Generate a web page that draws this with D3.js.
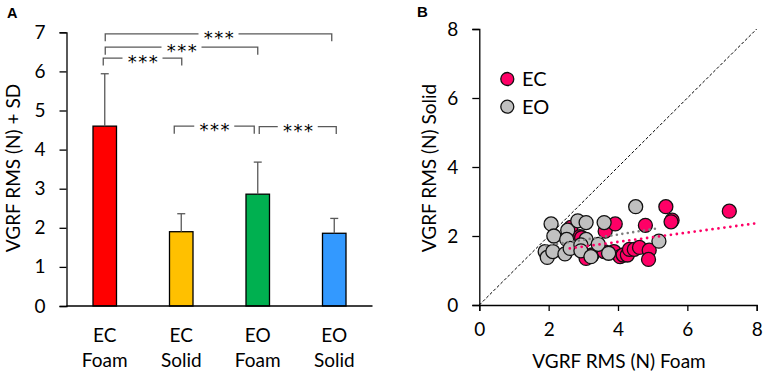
<!DOCTYPE html>
<html><head><meta charset="utf-8">
<script src="https://cdn.jsdelivr.net/npm/d3@7"></script>
<style>
html,body{margin:0;padding:0;background:#fff;}
svg{display:block;font-family:Lato,"Open Sans",sans-serif;}
</style></head>
<body>
<svg id="c" width="765" height="376"></svg>
<script>
// ---------- Data (panel A) ----------
const categories = ["EC Foam","EC Solid","EO Foam","EO Solid"];
const catLine1 = ["EC","EC","EO","EO"];
const catLine2 = ["Foam","Solid","Foam","Solid"];
const means = [4.60, 1.90, 2.86, 1.86];
const sds = [1.34, 0.46, 0.82, 0.38];
const barColors = ["#FF0000","#FFC000","#00B050","#3399FF"];
const yTicksA = [0,1,2,3,4,5,6,7];
// significance brackets: from index, to index, level (y units), label
const bracketFrom = [0,0,0,1,2];
const bracketTo = [3,2,1,2,3];
const bracketLevel = [6.96,6.62,6.34,4.60,4.59];
const bracketLabel = ["***","***","***","***","***"];

// ---------- Data (panel B) ----------
const ecFoam  = [2.64,2.90,3.08,3.25,3.63,3.92,3.88,4.06,4.15,4.27,4.33,4.47,4.62,4.79,4.90,4.88,5.38,5.56,5.53,7.21,2.95,3.60];
const ecSolid = [2.25,1.98,1.35,1.45,2.14,2.35,1.55,1.40,1.45,1.45,1.61,1.61,1.67,2.31,1.59,1.32,2.85,2.46,2.41,2.72,1.95,1.55];
const eoFoam  = [2.07,2.15,1.90,1.96,2.12,2.55,2.52,2.47,2.62,2.84,3.08,3.08,2.93,2.93,3.22,3.43,3.60,3.73,4.51,5.18];
const eoSolid = [2.35,2.00,1.55,1.38,1.55,2.17,1.90,1.48,1.64,2.44,2.39,1.90,1.74,1.57,1.40,1.76,2.39,1.50,2.85,1.85];
const ecTrendX = [2.61, 8.0];
const ecTrendY = [1.64, 2.37];
const eoTrendX = [1.93, 5.13];
const eoTrendY = [1.72, 2.22];
const axisTicksB = [0,2,4,6,8];
const legendNames = ["EC","EO"];
const pointColors = ["#FF0066","#C0C0C0"];

const svg = d3.select("#c");
const FONT = 19;

// ================= Panel A =================
const xA = d3.scalePoint().domain(categories).range([66.5,372.5]).padding(0.5);
const yA = d3.scaleLinear().domain([0,7]).range([306,32.3]);
const barW = 23.5;
const gA = svg.append("g");

gA.selectAll("rect.bar").data(categories).join("rect")
  .attr("x", d=>xA(d)-barW/2)
  .attr("y", (d,i)=>yA(means[i]))
  .attr("width", barW)
  .attr("height", (d,i)=>yA(0)-yA(means[i]))
  .attr("fill", (d,i)=>barColors[i])
  .attr("stroke","#000").attr("stroke-width",1.3);

gA.selectAll("g.err").data(categories).join("g").each(function(d,i){
  const g = d3.select(this);
  const cx = xA(d);
  g.append("line").attr("x1",cx).attr("x2",cx)
    .attr("y1",yA(means[i])).attr("y2",yA(means[i]+sds[i]))
    .attr("stroke","#595959").attr("stroke-width",1.3);
  g.append("line").attr("x1",cx-4).attr("x2",cx+4)
    .attr("y1",yA(means[i]+sds[i])).attr("y2",yA(means[i]+sds[i]))
    .attr("stroke","#595959").attr("stroke-width",1.3);
});

const axA = gA.append("g").attr("transform","translate(66.5,0)")
  .call(d3.axisLeft(yA).tickValues(yTicksA).tickSize(7).tickPadding(14).tickFormat(d3.format("d")));
axA.select(".domain").attr("stroke","#000").attr("stroke-width",1.3);
axA.selectAll(".tick line").attr("stroke","#000").attr("stroke-width",1.3);
axA.selectAll(".tick text").attr("font-size",FONT).attr("font-family","Lato").attr("fill","#000");
gA.append("line").attr("x1",66.5).attr("x2",372.5).attr("y1",yA(0)).attr("y2",yA(0))
  .attr("stroke","#000").attr("stroke-width",1.3);

gA.selectAll("text.cat1").data(categories).join("text")
  .attr("x", d=>xA(d)).attr("y", 342).attr("text-anchor","middle")
  .attr("font-size",FONT).text((d,i)=>catLine1[i]);
gA.selectAll("text.cat2").data(categories).join("text")
  .attr("x", d=>xA(d)).attr("y", 367).attr("text-anchor","middle")
  .attr("font-size",FONT).text((d,i)=>catLine2[i]);

gA.append("text").attr("transform","translate(20,168) rotate(-90)")
  .attr("text-anchor","middle").attr("font-size",FONT).text("VGRF RMS (N) + SD");

// brackets
const nudgeL = [0.5,0.5,-1.5,-7,1.5];
const nudgeR = [-2.5,0,0.5,-3.5,2];
const drop = 7.5;
bracketFrom.forEach((a,i)=>{
  const x1 = xA(categories[a])+nudgeL[i];
  const x2 = xA(categories[bracketTo[i]])+nudgeR[i];
  const y = yA(bracketLevel[i]);
  const g = gA.append("g");
  g.append("path")
    .attr("d", `M${x1},${y+drop}V${y}H${x2}V${y+drop}`)
    .attr("fill","none").attr("stroke","#595959").attr("stroke-width",1.3);
  const xm = (x1+x2)/2;
  g.append("rect").attr("x",xm-20).attr("y",y-3).attr("width",40).attr("height",6).attr("fill","#fff");
  g.append("text").attr("x",xm+1).attr("y",y+10).attr("text-anchor","middle")
    .attr("font-family","DejaVu Sans").attr("font-size",18).attr("letter-spacing",1.5)
    .attr("fill","#000").text(bracketLabel[i]);
});

svg.append("text").attr("x",7).attr("y",18).attr("font-family","Liberation Sans, Arial")
  .attr("font-weight","bold").attr("font-size",14.5).text("A");

// ================= Panel B =================
const xB = d3.scaleLinear().domain([0,8]).range([479.3,756.7]);
const yB = d3.scaleLinear().domain([0,8]).range([305,29]);
const gB = svg.append("g");

gB.append("line").attr("x1",xB(0)).attr("y1",yB(0)).attr("x2",xB(8)).attr("y2",yB(8))
  .attr("stroke","#000").attr("stroke-width",1).attr("stroke-dasharray","3,2");

const axBy = gB.append("g").attr("transform",`translate(${xB(0)},0)`)
  .call(d3.axisLeft(yB).tickValues(axisTicksB).tickSize(7).tickPadding(14).tickFormat(d3.format("d")));
const axBx = gB.append("g").attr("transform",`translate(0,${yB(0)})`)
  .call(d3.axisBottom(xB).tickValues(axisTicksB).tickSize(6).tickPadding(12).tickFormat(d3.format("d")));
[axBy,axBx].forEach(ax=>{
  ax.select(".domain").attr("stroke","#000").attr("stroke-width",1.3);
  ax.selectAll(".tick line").attr("stroke","#000").attr("stroke-width",1.3);
  ax.selectAll(".tick text").attr("font-size",FONT).attr("font-family","Lato").attr("fill","#000");
});

const R = 7;
gB.selectAll("circle.ec").data(ecFoam).join("circle")
  .attr("cx",d=>xB(d)).attr("cy",(d,i)=>yB(ecSolid[i])).attr("r",R)
  .attr("fill",pointColors[0]).attr("stroke","#111").attr("stroke-width",1.3);
gB.selectAll("circle.eo").data(eoFoam).join("circle")
  .attr("cx",d=>xB(d)).attr("cy",(d,i)=>yB(eoSolid[i])).attr("r",R)
  .attr("fill",pointColors[1]).attr("stroke","#111").attr("stroke-width",1.3);

gB.append("line").attr("x1",xB(eoTrendX[0])).attr("y1",yB(eoTrendY[0]))
  .attr("x2",xB(eoTrendX[1])).attr("y2",yB(eoTrendY[1]))
  .attr("stroke","#7F7F7F").attr("stroke-width",2.6).attr("stroke-linecap","round")
  .attr("stroke-dasharray","0,5.5");
gB.append("line").attr("x1",xB(ecTrendX[0])).attr("y1",yB(ecTrendY[0]))
  .attr("x2",xB(ecTrendX[1])).attr("y2",yB(ecTrendY[1]))
  .attr("stroke","#FF0066").attr("stroke-width",2.8).attr("stroke-linecap","round")
  .attr("stroke-dasharray","0,6");

legendNames.forEach((n,i)=>{
  const cy = 79 + i*27.7;
  gB.append("circle").attr("cx",507.3).attr("cy",cy).attr("r",6.5)
    .attr("fill",pointColors[i]).attr("stroke","#111").attr("stroke-width",1.3);
  gB.append("text").attr("x",522).attr("y",cy+7).attr("font-size",20).text(n);
});

gB.append("text").attr("transform","translate(436,168) rotate(-90)")
  .attr("text-anchor","middle").attr("font-size",FONT).text("VGRF RMS (N) Solid");
gB.append("text").attr("x",619).attr("y",368).attr("text-anchor","middle")
  .attr("font-size",FONT).text("VGRF RMS (N) Foam");

svg.append("text").attr("x",417).attr("y",17).attr("font-family","Liberation Sans, Arial")
  .attr("font-weight","bold").attr("font-size",15).text("B");
</script>
</body></html>
